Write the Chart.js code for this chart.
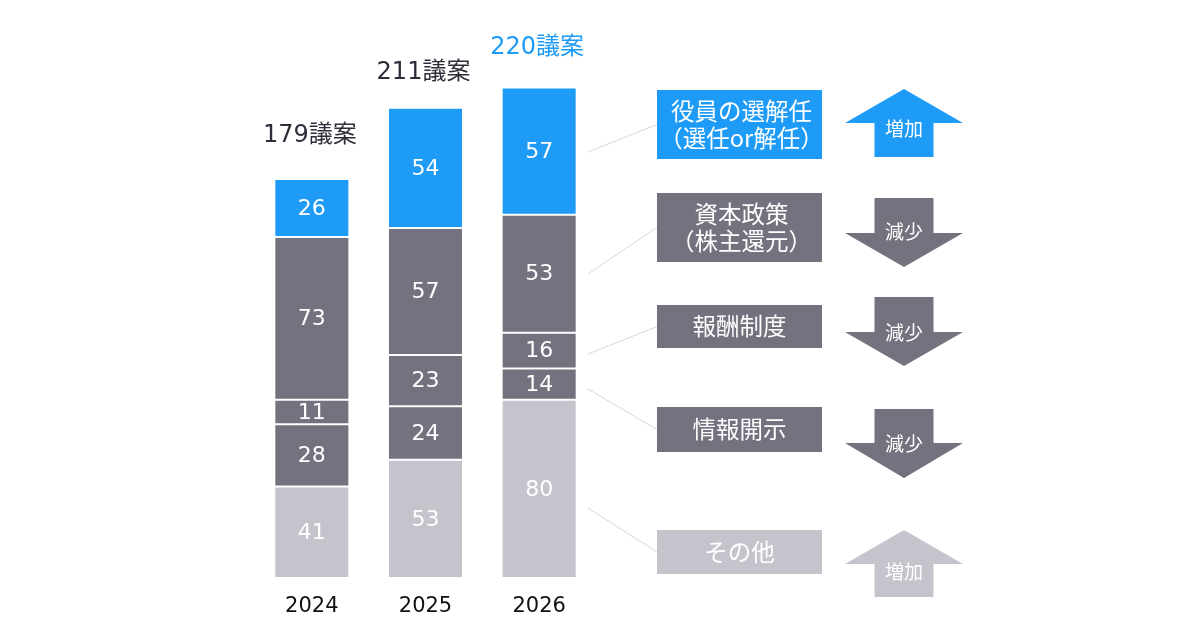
<!DOCTYPE html>
<html>
<head>
<meta charset="utf-8">
<script src="https://cdn.jsdelivr.net/npm/chart.js@4"></script>
<style>
body{margin:0;background:#fff}
</style>
</head>
<body>
<canvas id="chart" width="1200" height="630"></canvas>
<script>
// 議案数（下から積み上げ）
var years=['2024','2025','2026']
var sonota=[41,53,80]     // その他
var jouhou=[28,24,14]     // 情報開示
var houshu=[11,23,16]     // 報酬制度
var shihon=[73,57,53]     // 資本政策
var yakuin=[26,54,57]     // 役員の選解任

var BLUE='#1e9bf7', DARK='#73727e', LIGHT='#c4c4cc'
var NUMFONT='"DejaVu Sans", "Noto Sans CJK JP", sans-serif'
var JPFONT='"Noto Sans CJK JP", sans-serif'

var totals=years.map(function(y,i){return sonota[i]+jouhou[i]+houshu[i]+shihon[i]+yakuin[i]})

// 右側の説明ボックスと矢印
var notes=[
 {lines:['役員の選解任','（選任or解任）'],color:BLUE,top:90,bottom:159,from:152,up:true,arrow:'増加',a:[89,123,157],ly:129},
 {lines:['資本政策','（株主還元）'],color:DARK,top:193,bottom:262,from:274,up:false,arrow:'減少',a:[198,233,267],ly:232},
 {lines:['報酬制度'],color:DARK,top:305,bottom:348,from:354,up:false,arrow:'減少',a:[297,332,366],ly:333},
 {lines:['情報開示'],color:DARK,top:407,bottom:452,from:389,up:false,arrow:'減少',a:[409,443,478],ly:444},
 {lines:['その他'],color:LIGHT,top:530,bottom:574,from:508,up:true,arrow:'増加',a:[530,564,597],ly:572}
]

var labelsPlugin={
 id:'labels',
 afterDatasetsDraw:function(chart){
  var ctx=chart.ctx
  ctx.save()
  ctx.textAlign='center'
  ctx.textBaseline='middle'
  ctx.fillStyle='#fff'
  ctx.font='22px '+NUMFONT
  chart.data.datasets.forEach(function(ds,di){
   chart.getDatasetMeta(di).data.forEach(function(el,i){
    ctx.fillText(ds.data[i],el.x,(el.y+el.base)/2+1)
   })
  })
  // 合計
  var lift=[43,35,40]
  var top=chart.getDatasetMeta(chart.data.datasets.length-1).data
  ctx.font='24px '+NUMFONT
  top.forEach(function(el,i){
   ctx.fillStyle=i==years.length-1?BLUE:'#2e2e3a'
   ctx.fillText(totals[i]+'議案',el.x-2,el.y-lift[i])
  })
  ctx.restore()
 },
 afterDraw:function(chart){
  var ctx=chart.ctx
  var bx=657,bw=165,cx=904
  ctx.save()
  notes.forEach(function(n){
   var mid=(n.top+n.bottom)/2
   // 線
   ctx.strokeStyle='#d6d6dd'
   ctx.lineWidth=1
   ctx.beginPath()
   ctx.moveTo(588,n.from)
   ctx.lineTo(bx,mid)
   ctx.stroke()
   // ボックス
   ctx.fillStyle=n.color
   ctx.fillRect(bx,n.top,bw,n.bottom-n.top)
   ctx.fillStyle='#fff'
   ctx.font='23.5px '+JPFONT
   ctx.textAlign='center'
   ctx.textBaseline='middle'
   if(n.lines.length==2){
    ctx.fillText(n.lines[0],bx+bw/2+2,mid-13)
    ctx.fillText(n.lines[1],bx+bw/2+2,mid+14)
   }else{
    ctx.fillText(n.lines[0],bx+bw/2,mid)
   }
   // 矢印
   var a=n.a
   ctx.fillStyle=n.color
   ctx.beginPath()
   if(n.up){
    ctx.moveTo(cx,a[0])
    ctx.lineTo(cx+59,a[1])
    ctx.lineTo(cx+29.5,a[1])
    ctx.lineTo(cx+29.5,a[2])
    ctx.lineTo(cx-29.5,a[2])
    ctx.lineTo(cx-29.5,a[1])
    ctx.lineTo(cx-59,a[1])
   }else{
    ctx.moveTo(cx-29.5,a[0])
    ctx.lineTo(cx+29.5,a[0])
    ctx.lineTo(cx+29.5,a[1])
    ctx.lineTo(cx+59,a[1])
    ctx.lineTo(cx,a[2])
    ctx.lineTo(cx-59,a[1])
    ctx.lineTo(cx-29.5,a[1])
   }
   ctx.closePath()
   ctx.fill()
   ctx.fillStyle='#fff'
   ctx.font='19px '+JPFONT
   ctx.fillText(n.arrow,cx,n.ly)
  })
  ctx.restore()
 }
}

function ds(label,data,color){
 return {label:label,data:data,backgroundColor:color,borderColor:'#fff',borderWidth:1,borderSkipped:false,
  barPercentage:1,categoryPercentage:0.66}
}

var ctx=document.getElementById('chart').getContext('2d')
var chart=new Chart(ctx,{
 type:'bar',
 data:{
  labels:years,
  datasets:[
   ds('その他',sonota,LIGHT),
   ds('情報開示',jouhou,DARK),
   ds('報酬制度',houshu,DARK),
   ds('資本政策',shihon,DARK),
   ds('役員の選解任',yakuin,BLUE)
  ]
 },
 options:{
  responsive:false,
  animation:false,
  devicePixelRatio:1,
  layout:{padding:{left:255,right:604,top:43,bottom:0}},
  plugins:{legend:{display:false},tooltip:{enabled:false}},
  scales:{
   x:{stacked:true,grid:{display:false,drawTicks:false},border:{display:false},
    ticks:{padding:15.5,color:'#111',font:{family:NUMFONT,size:21}},
    afterFit:function(s){s.height=52}},
   y:{stacked:true,display:false,min:0,max:240}
  }
 },
 plugins:[labelsPlugin]
})
</script>
</body>
</html>
